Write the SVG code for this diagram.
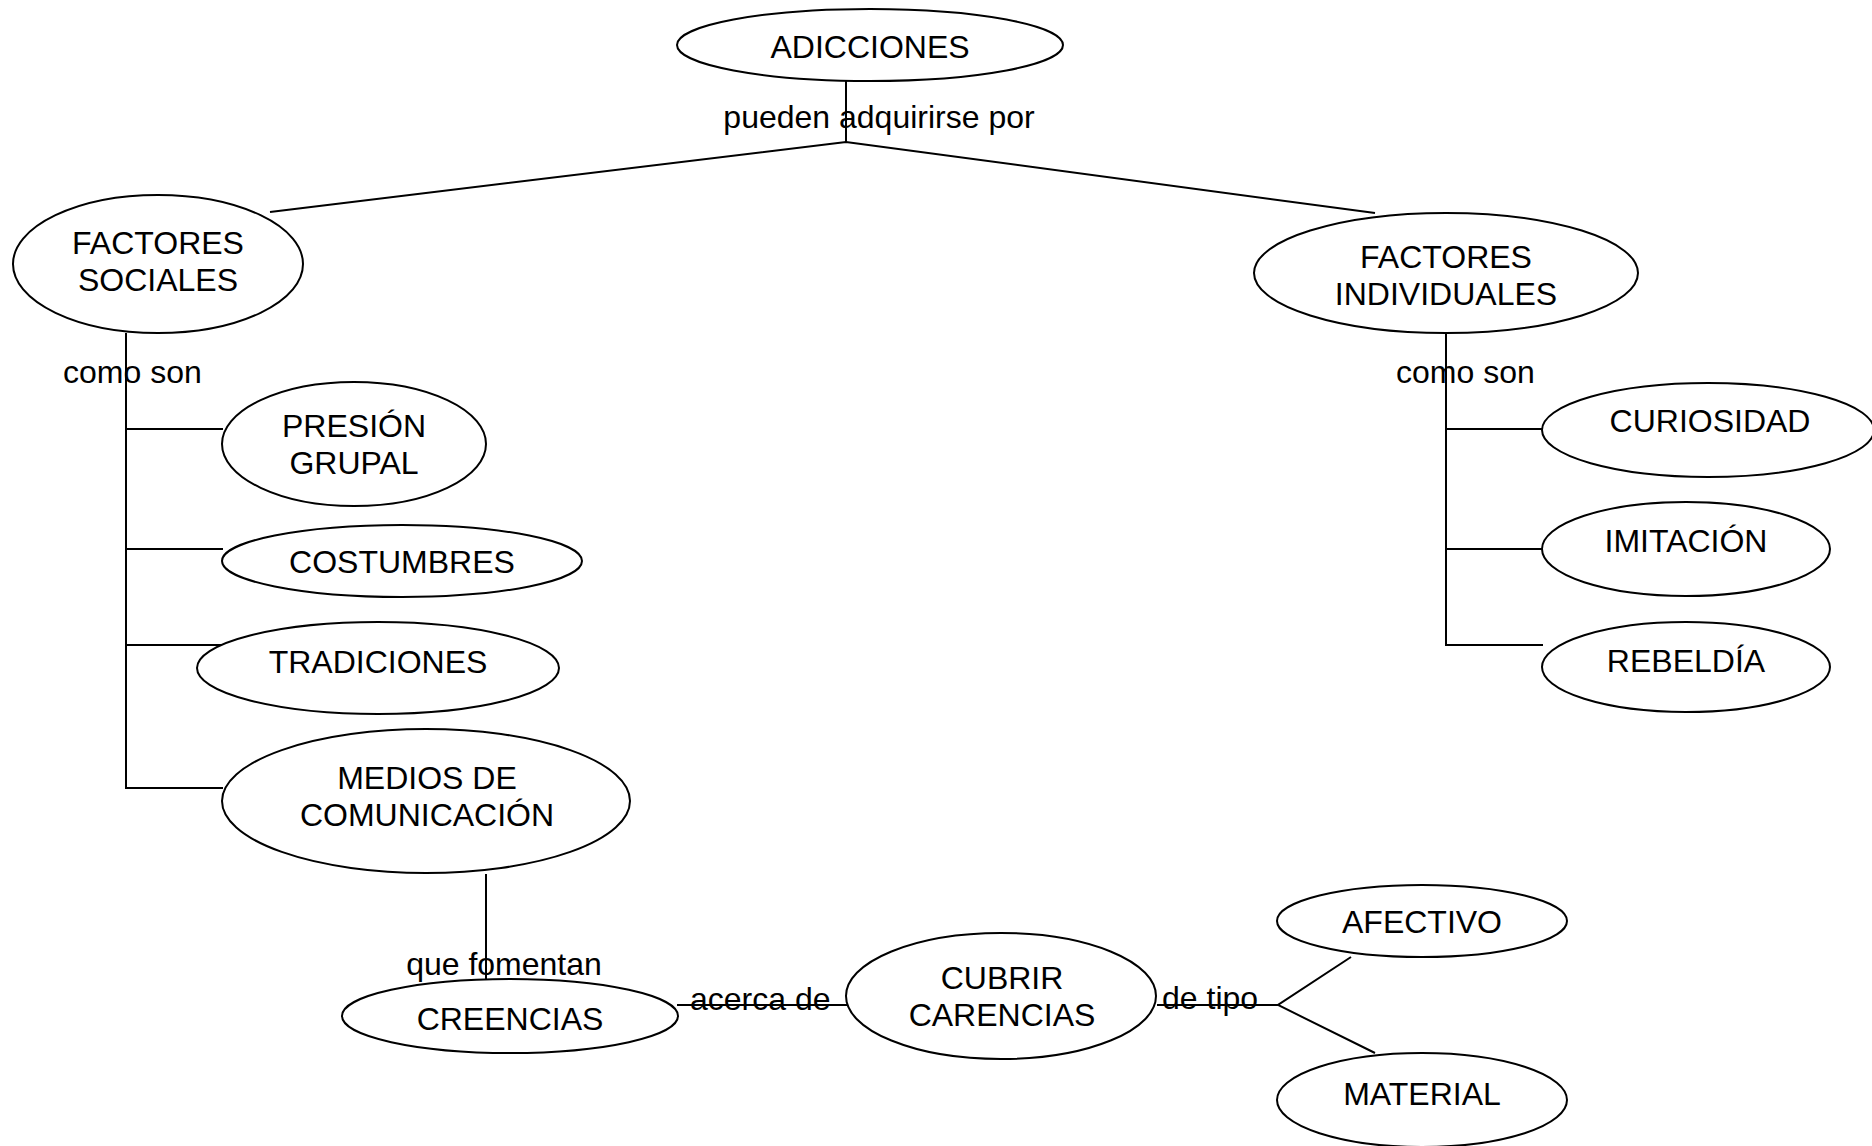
<svg xmlns="http://www.w3.org/2000/svg" width="1872" height="1146" viewBox="0 0 1872 1146">
  <style>
    .node ellipse { fill: #ffffff; stroke: #000000; stroke-width: 2; }
    .link { fill: none; stroke: #000000; stroke-width: 2; }
    text { font-family: "Liberation Sans", Arial, sans-serif; font-size: 32px; fill: #000000; }
    .c { text-anchor: middle; }
  </style>
  <rect width="1872" height="1146" fill="#ffffff"/>

  <!-- connectors -->
  <g id="connectors">
    <polyline class="link" points="846,81 846,142"/>
    <polyline class="link" points="270,212 846,142 1375,213"/>
    <!-- social factors trunk -->
    <polyline class="link" points="126,333 126,788 223,788"/>
    <line class="link" x1="126" y1="429" x2="223" y2="429"/>
    <line class="link" x1="126" y1="549" x2="223" y2="549"/>
    <line class="link" x1="126" y1="645" x2="223" y2="645"/>
    <!-- individual factors trunk -->
    <polyline class="link" points="1446,333 1446,645 1543,645"/>
    <line class="link" x1="1446" y1="429" x2="1543" y2="429"/>
    <line class="link" x1="1446" y1="549" x2="1543" y2="549"/>
    <!-- lower chain -->
    <line class="link" x1="486" y1="874" x2="486" y2="979"/>
    <line class="link" x1="677" y1="1005" x2="847" y2="1005"/>
    <line class="link" x1="1157" y1="1005" x2="1278" y2="1005"/>
    <polyline class="link" points="1351,957 1278,1005 1375,1053"/>
    <!-- link labels -->
    <text class="c" x="879" y="128">pueden adquirirse por</text>
    <text x="63" y="383">como son</text>
    <text x="1396" y="383">como son</text>
    <text class="c" x="504" y="975">que fomentan</text>
    <text x="690" y="1010">acerca de</text>
    <text x="1162" y="1009">de tipo</text>
  </g>

  <g id="adicciones" class="node">
    <ellipse cx="870" cy="45" rx="193" ry="36"/>
    <text class="c" x="870" y="58">ADICCIONES</text>
  </g>

  <g id="factores-sociales" class="node">
    <ellipse cx="158" cy="264" rx="145" ry="69"/>
    <text class="c" x="158" y="254">FACTORES</text>
    <text class="c" x="158" y="291">SOCIALES</text>
  </g>

  <g id="factores-individuales" class="node">
    <ellipse cx="1446" cy="273" rx="192" ry="60"/>
    <text class="c" x="1446" y="268">FACTORES</text>
    <text class="c" x="1446" y="305">INDIVIDUALES</text>
  </g>

  <g id="presion-grupal" class="node">
    <ellipse cx="354" cy="444" rx="132" ry="62"/>
    <text class="c" x="354" y="437">PRESIÓN</text>
    <text class="c" x="354" y="474">GRUPAL</text>
  </g>

  <g id="costumbres" class="node">
    <ellipse cx="402" cy="561" rx="180" ry="36"/>
    <text class="c" x="402" y="573">COSTUMBRES</text>
  </g>

  <g id="tradiciones" class="node">
    <ellipse cx="378" cy="668" rx="181" ry="46"/>
    <text class="c" x="378" y="673">TRADICIONES</text>
  </g>

  <g id="medios-de-comunicacion" class="node">
    <ellipse cx="426" cy="801" rx="204" ry="72"/>
    <text class="c" x="427" y="789">MEDIOS DE</text>
    <text class="c" x="427" y="826">COMUNICACIÓN</text>
  </g>

  <g id="creencias" class="node">
    <ellipse cx="510" cy="1016" rx="168" ry="37"/>
    <text class="c" x="510" y="1030">CREENCIAS</text>
  </g>

  <g id="cubrir-carencias" class="node">
    <ellipse cx="1001" cy="996" rx="155" ry="63"/>
    <text class="c" x="1002" y="989">CUBRIR</text>
    <text class="c" x="1002" y="1026">CARENCIAS</text>
  </g>

  <g id="afectivo" class="node">
    <ellipse cx="1422" cy="921" rx="145" ry="36"/>
    <text class="c" x="1422" y="933">AFECTIVO</text>
  </g>

  <g id="material" class="node">
    <ellipse cx="1422" cy="1100" rx="145" ry="47"/>
    <text class="c" x="1422" y="1105">MATERIAL</text>
  </g>

  <g id="curiosidad" class="node">
    <ellipse cx="1708" cy="430" rx="166" ry="47"/>
    <text class="c" x="1710" y="432">CURIOSIDAD</text>
  </g>

  <g id="imitacion" class="node">
    <ellipse cx="1686" cy="549" rx="144" ry="47"/>
    <text class="c" x="1686" y="552">IMITACIÓN</text>
  </g>

  <g id="rebeldia" class="node">
    <ellipse cx="1686" cy="667" rx="144" ry="45"/>
    <text class="c" x="1686" y="672">REBELDÍA</text>
  </g>
</svg>
